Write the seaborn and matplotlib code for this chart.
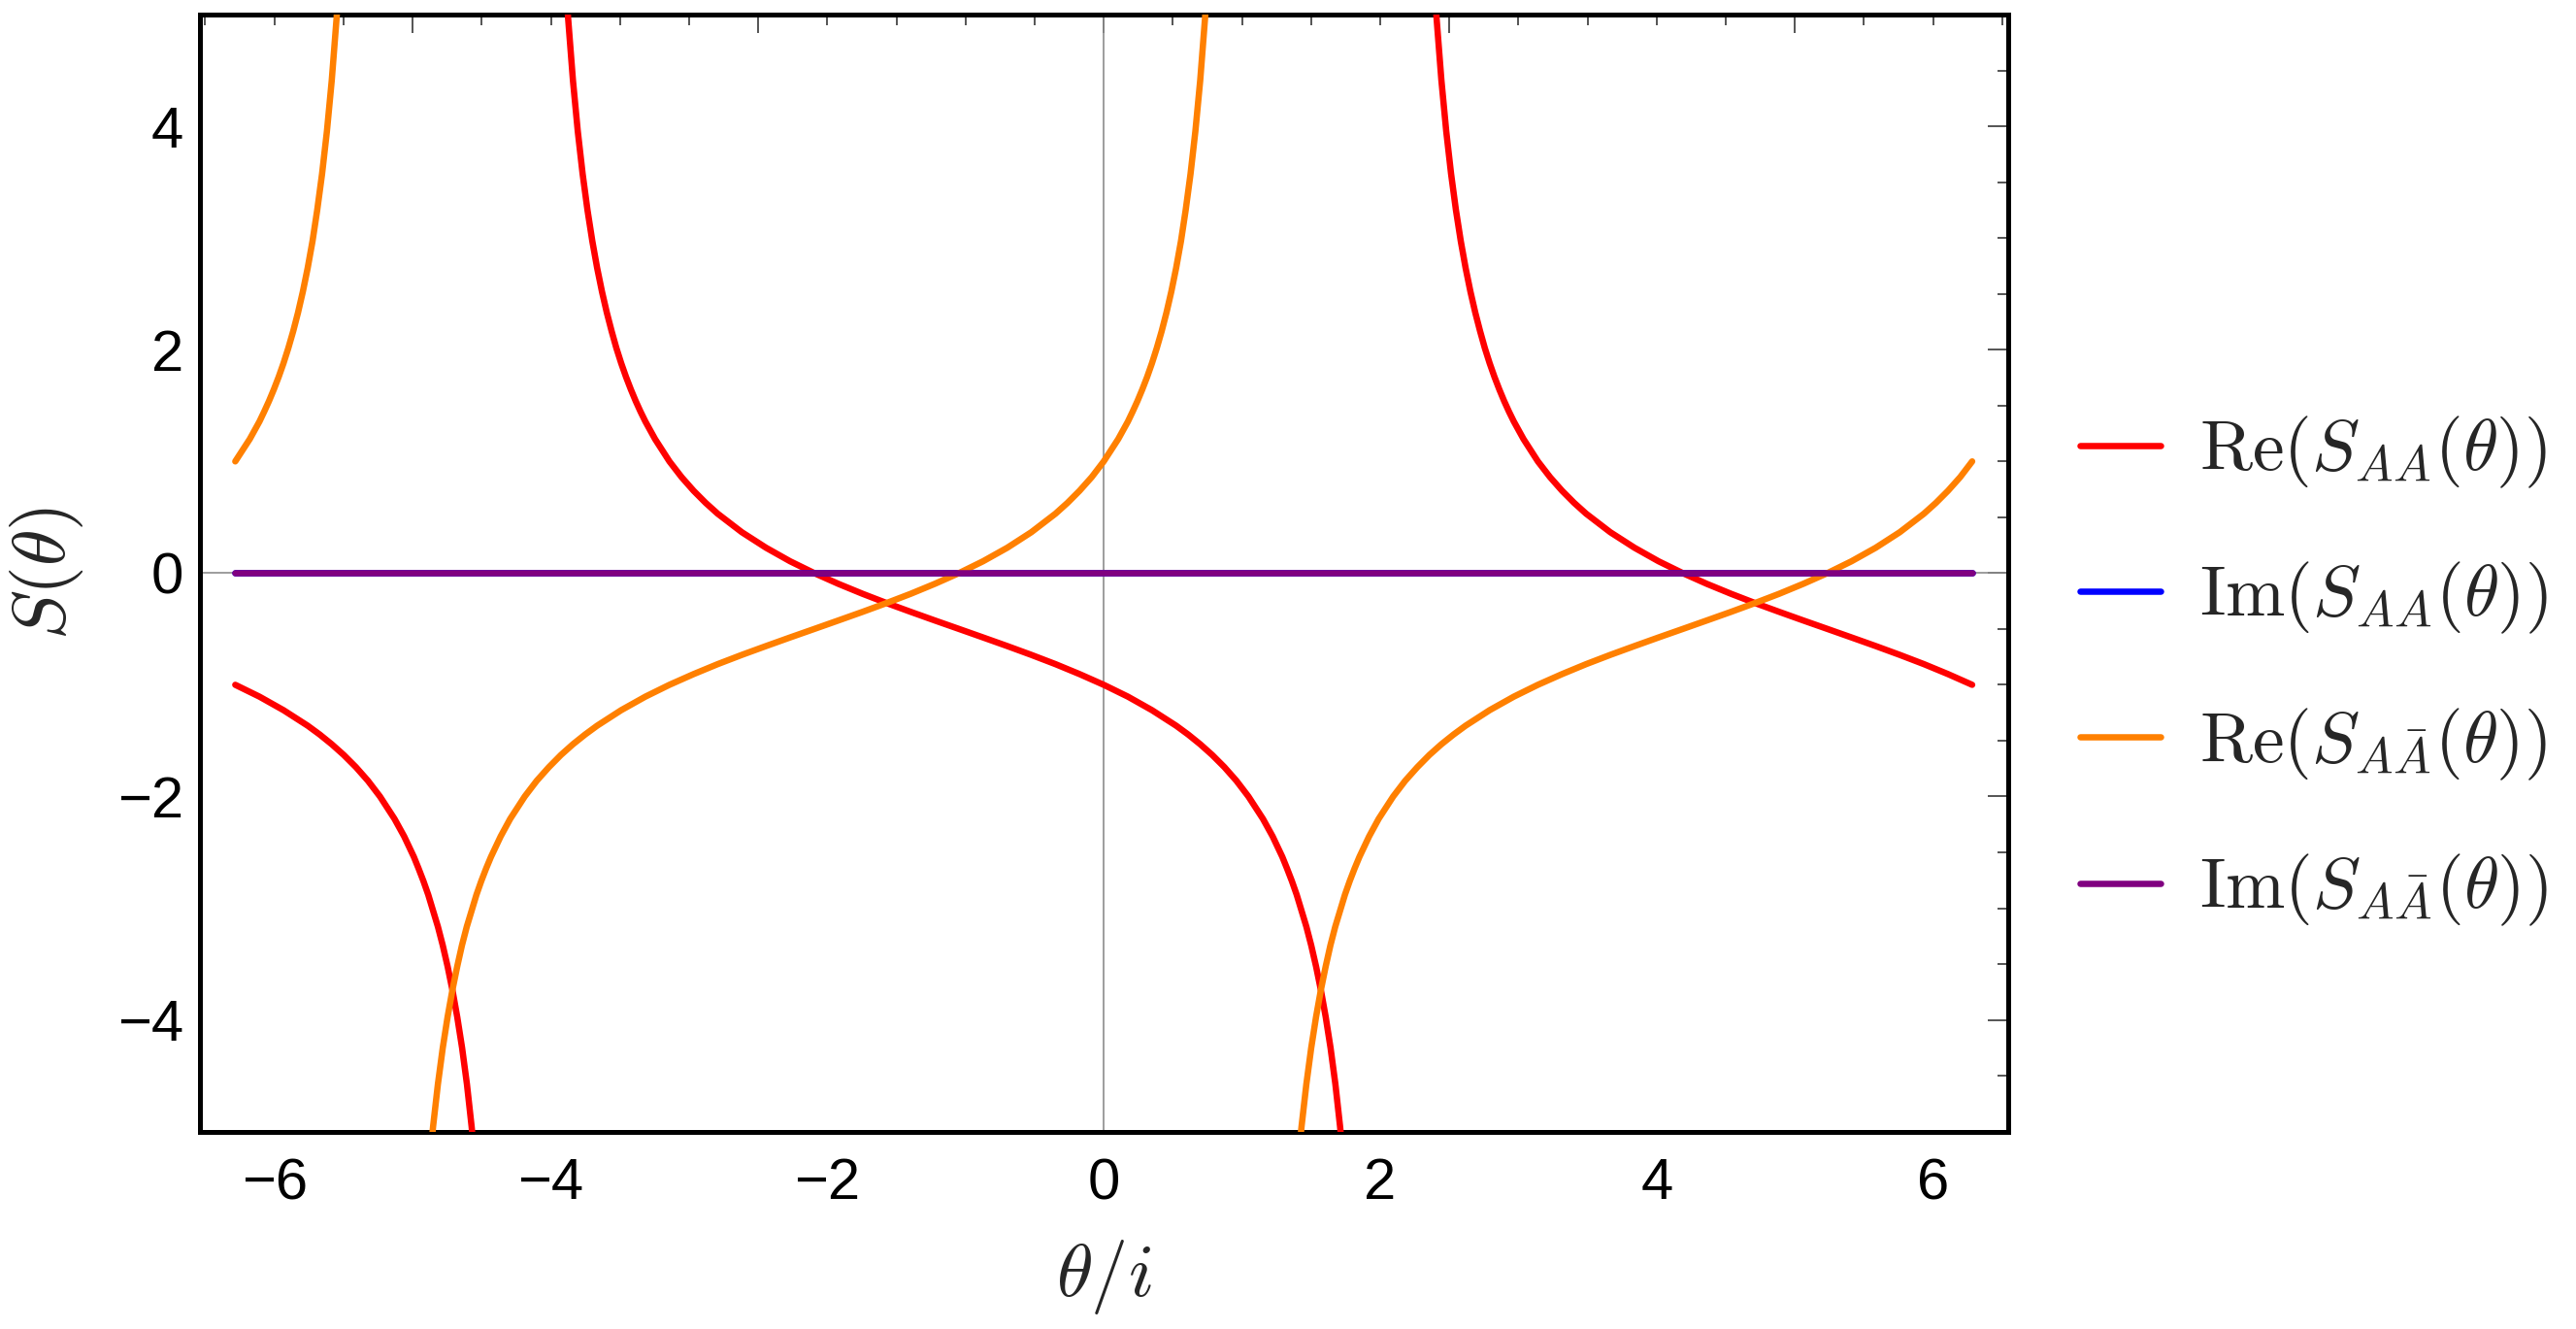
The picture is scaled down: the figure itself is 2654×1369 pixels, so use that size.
import numpy as np
import pandas as pd
import matplotlib
matplotlib.use('Agg')
import matplotlib.pyplot as plt
import seaborn as sns

# values (theta/i on x, S on y), one list per branch
re_aa_x1 = [-6.283, -6.108, -5.934, -5.759, -5.672, -5.585, -5.498, -5.410, -5.323, -5.236,
            -5.131, -5.061, -4.991, -4.957, -4.922, -4.887, -4.817, -4.782, -4.747, -4.712,
            -4.677, -4.642, -4.607, -4.573, -4.538, -4.503, -4.468]
re_aa_y1 = [-1.0, -1.106, -1.227, -1.366, -1.445, -1.532, -1.628, -1.737, -1.859, -2.0,
            -2.200, -2.357, -2.540, -2.644, -2.756, -2.879, -3.165, -3.332, -3.520, -3.732,
            -3.974, -4.250, -4.575, -4.955, -5.411, -5.969, -6.661]
re_aa_x2 = [-3.979, -3.944, -3.910, -3.875, -3.840, -3.805, -3.770, -3.735, -3.700, -3.665,
            -3.630, -3.595, -3.560, -3.526, -3.491, -3.456, -3.421, -3.386, -3.351, -3.316,
            -3.246, -3.142, -3.054, -2.967, -2.880, -2.793, -2.618, -2.443, -2.269, -2.094,
            -1.920, -1.745, -1.571, -1.396, -1.222, -1.047, -0.873, -0.698, -0.524, -0.349,
            -0.175, 0.0, 0.175, 0.349, 0.524, 0.611, 0.698, 0.785, 0.873, 0.960,
            1.047, 1.152, 1.222, 1.292, 1.326, 1.361, 1.396, 1.466, 1.501, 1.536,
            1.571, 1.606, 1.641, 1.676, 1.710, 1.745, 1.780, 1.815]
re_aa_y2 = [7.740, 6.553, 5.662, 4.968, 4.411, 3.955, 3.574, 3.251, 2.973, 2.732,
            2.520, 2.332, 2.165, 2.015, 1.879, 1.756, 1.644, 1.540, 1.445, 1.357,
            1.200, 1.0, 0.859, 0.737, 0.629, 0.532, 0.366, 0.227, 0.106, 0.0,
            -0.096, -0.185, -0.268, -0.347, -0.424, -0.5, -0.576, -0.653, -0.732, -0.815,
            -0.904, -1.0, -1.106, -1.227, -1.366, -1.445, -1.532, -1.628, -1.737, -1.859,
            -2.0, -2.200, -2.357, -2.540, -2.644, -2.756, -2.879, -3.165, -3.332, -3.520,
            -3.732, -3.974, -4.250, -4.575, -4.955, -5.411, -5.969, -6.661]
re_aa_x3 = [2.304, 2.339, 2.373, 2.408, 2.443, 2.478, 2.513, 2.548, 2.583, 2.618,
            2.653, 2.688, 2.723, 2.757, 2.792, 2.827, 2.862, 2.897, 2.932, 2.967,
            3.037, 3.141, 3.229, 3.316, 3.403, 3.490, 3.665, 3.840, 4.014, 4.189,
            4.363, 4.538, 4.712, 4.887, 5.061, 5.236, 5.410, 5.585, 5.759, 5.934,
            6.108, 6.283]
re_aa_y3 = [7.740, 6.553, 5.662, 4.968, 4.411, 3.955, 3.574, 3.251, 2.973, 2.732,
            2.520, 2.332, 2.165, 2.015, 1.879, 1.756, 1.644, 1.540, 1.445, 1.357,
            1.200, 1.0, 0.859, 0.737, 0.629, 0.532, 0.366, 0.227, 0.106, 0.0,
            -0.096, -0.185, -0.268, -0.347, -0.424, -0.5, -0.576, -0.653, -0.732, -0.815,
            -0.904, -1.0]

im_x = [-6.283, -3.142, 0.0, 3.142, 6.283]
im_y = [0.0, 0.0, 0.0, 0.0, 0.0]

re_ab_x1 = [-6.283, -6.178, -6.108, -6.074, -6.039, -6.004, -5.969, -5.934, -5.899, -5.864,
            -5.829, -5.794, -5.759, -5.724, -5.690, -5.655, -5.620, -5.585, -5.550, -5.515,
            -5.480, -5.445]
re_ab_y1 = [1.0, 1.200, 1.357, 1.445, 1.540, 1.644, 1.756, 1.879, 2.015, 2.165,
            2.332, 2.520, 2.732, 2.973, 3.251, 3.574, 3.955, 4.411, 4.968, 5.662,
            6.553, 7.740]
re_ab_x2 = [-5.027, -4.992, -4.957, -4.922, -4.887, -4.852, -4.817, -4.782, -4.747, -4.712,
            -4.677, -4.643, -4.608, -4.538, -4.503, -4.468, -4.433, -4.363, -4.294, -4.189,
            -4.102, -4.014, -3.927, -3.840, -3.752, -3.665, -3.491, -3.316, -3.142, -2.967,
            -2.793, -2.618, -2.443, -2.269, -2.094, -1.920, -1.745, -1.571, -1.396, -1.222,
            -1.047, -0.873, -0.698, -0.524, -0.349, -0.262, -0.175, -0.087, 0.0, 0.105,
            0.175, 0.209, 0.244, 0.279, 0.314, 0.349, 0.384, 0.419, 0.454, 0.489,
            0.524, 0.559, 0.593, 0.628, 0.663, 0.698, 0.733, 0.768, 0.803, 0.838]
re_ab_y2 = [-8.739, -7.553, -6.662, -5.968, -5.411, -4.955, -4.575, -4.251, -3.974, -3.732,
            -3.520, -3.332, -3.165, -2.879, -2.756, -2.644, -2.540, -2.357, -2.200, -2.0,
            -1.859, -1.737, -1.628, -1.532, -1.445, -1.366, -1.227, -1.106, -1.0, -0.904,
            -0.815, -0.732, -0.653, -0.576, -0.5, -0.424, -0.347, -0.268, -0.185, -0.096,
            0.0, 0.106, 0.227, 0.366, 0.532, 0.629, 0.737, 0.859, 1.0, 1.200,
            1.357, 1.445, 1.540, 1.644, 1.756, 1.879, 2.015, 2.165, 2.332, 2.520,
            2.732, 2.973, 3.251, 3.574, 3.955, 4.411, 4.968, 5.662, 6.553, 7.740]
re_ab_x3 = [1.256, 1.291, 1.326, 1.361, 1.396, 1.431, 1.466, 1.501, 1.536, 1.571,
            1.606, 1.640, 1.675, 1.745, 1.780, 1.815, 1.850, 1.920, 1.989, 2.094,
            2.181, 2.269, 2.356, 2.443, 2.531, 2.618, 2.792, 2.967, 3.141, 3.316,
            3.490, 3.665, 3.840, 4.014, 4.189, 4.363, 4.538, 4.712, 4.887, 5.061,
            5.236, 5.410, 5.585, 5.759, 5.934, 6.021, 6.108, 6.196, 6.283]
re_ab_y3 = [-8.739, -7.553, -6.662, -5.968, -5.411, -4.955, -4.575, -4.251, -3.974, -3.732,
            -3.520, -3.332, -3.165, -2.879, -2.756, -2.644, -2.540, -2.357, -2.200, -2.0,
            -1.859, -1.737, -1.628, -1.532, -1.445, -1.366, -1.227, -1.106, -1.0, -0.904,
            -0.815, -0.732, -0.653, -0.576, -0.5, -0.424, -0.347, -0.268, -0.185, -0.096,
            0.0, 0.106, 0.227, 0.366, 0.532, 0.629, 0.737, 0.859, 1.0]

labels = [r'$\mathrm{Re}(S_{AA}(\theta))$', r'$\mathrm{Im}(S_{AA}(\theta))$',
          r'$\mathrm{Re}(S_{A\bar{A}}(\theta))$', r'$\mathrm{Im}(S_{A\bar{A}}(\theta))$']
colors = ['#ff0000', '#0000ff', '#ff8000', '#800080']

branches = {
    labels[0]: [(re_aa_x1, re_aa_y1), (re_aa_x2, re_aa_y2), (re_aa_x3, re_aa_y3)],
    labels[1]: [(im_x, im_y)],
    labels[2]: [(re_ab_x1, re_ab_y1), (re_ab_x2, re_ab_y2), (re_ab_x3, re_ab_y3)],
    labels[3]: [(im_x, im_y)],
}

frames = []
for name, parts in branches.items():
    for i, (xs, ys) in enumerate(parts):
        frames.append(pd.DataFrame({'x': xs, 'y': ys, 'series': name, 'branch': '%s_%d' % (name, i)}))
df = pd.concat(frames, ignore_index=True)

sns.set_theme(style='white')
plt.rcParams['font.family'] = ['Liberation Sans', 'DejaVu Sans']
plt.rcParams['mathtext.fontset'] = 'cm'

fig = plt.figure(figsize=(26.54, 13.69), dpi=100)
ax = fig.add_axes([0.07754, 0.1485, 0.70185, 0.84054])

ax.axhline(0, color='#8c8c8c', lw=1.2, zorder=1)
ax.axvline(0, color='#8c8c8c', lw=1.2, zorder=1)

sns.lineplot(data=df, x='x', y='y', hue='series', hue_order=labels, palette=colors,
             units='branch', estimator=None, sort=False, lw=4.7, ax=ax, zorder=3)

ax.set_xlim(-6.54, 6.54)
ax.set_ylim(-5, 5)
for s in ax.spines.values():
    s.set_linewidth(3.6)
    s.set_color('black')
    s.set_visible(True)

ax.set_xticks([-6, -4, -2, 0, 2, 4, 6])
ax.set_yticks([-4, -2, 0, 2, 4])
ax.tick_params(axis='both', which='major', direction='in', length=3.6, width=2.5,
               labelsize=43, colors='black', top=False, right=False)
ax.tick_params(axis='x', pad=19)
ax.tick_params(axis='y', pad=12)

top = ax.secondary_xaxis('top')
top.set_xticks([-5, -2.5, 0, 2.5, 5])
top.set_xticks(np.arange(-6.5, 6.6, 0.5), minor=True)
top.tick_params(which='major', direction='in', length=14, width=1.1, labeltop=False)
top.tick_params(which='minor', direction='in', length=7.6, width=1.1)
top.spines['top'].set_visible(False)

right = ax.secondary_yaxis('right')
right.set_yticks([-4, -2, 0, 2, 4])
right.set_yticks(np.arange(-4.5, 4.6, 0.5), minor=True)
right.tick_params(which='major', direction='in', length=15, width=1.1, labelright=False)
right.tick_params(which='minor', direction='in', length=7.6, width=1.1)
right.spines['right'].set_visible(False)

ax.set_xlabel(r'$\theta/i$', fontsize=55)
ax.set_ylabel(r'$S(\theta)$', fontsize=55)
ax.xaxis.set_label_coords(0.5, -0.095)
ax.yaxis.set_label_coords(-0.063, 0.5)

handles, _ = ax.get_legend_handles_labels()
ax.legend(handles, labels, loc='center left', bbox_to_anchor=(0.8074, 0.495),
          bbox_transform=fig.transFigure, frameon=False, fontsize=53,
          handlelength=1.128, handletextpad=0.543, labelspacing=0.98,
          borderpad=0, borderaxespad=0)

fig.savefig('out.png', dpi=100)
